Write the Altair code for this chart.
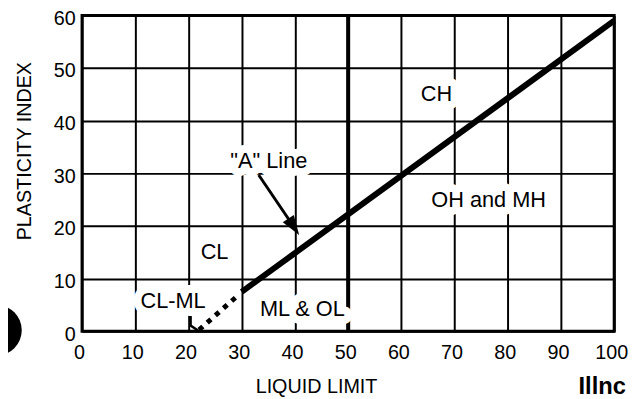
import altair as alt
import pandas as pd

# axis ticks
ll_ticks = list(range(0, 101, 10))
pi_ticks = list(range(0, 61, 10))

# "A" line (solid part) and its dotted extension
a_line_ll = [30.0, 100.0]
a_line_pi = [7.5, 59.0]
dash_ll = [22.0, 29.5]
dash_pi = [0.3, 7.0]
hook_ll = [20.4, 20.4, 22.0]
hook_pi = [3.7, 1.1, 0.0]

# LL = 50 boundary
boundary_ll = [50.0, 50.0]
boundary_pi = [0.0, 60.0]

# zone labels
zone_labels = ["CH", "OH and MH", "CL", "CL-ML", "ML & OL", '"A" Line']
zone_ll = [66.6, 76.4, 24.9, 17.1, 41.4, 35.1]
zone_pi = [45.0, 24.9, 15.0, 5.7, 4.2, 32.3]

# arrow from the "A" Line label
arrow_ll = [33.2, 38.9]
arrow_pi = [29.7, 21.2]
arrow_tip_ll = [40.8]
arrow_tip_pi = [18.3]

# scan artefacts: punch hole and cropped stamp text
punch_ll = [-16.1]
punch_pi = [0.2]
stamp_text = ["Illnc"]
stamp_ll = [102.2]
stamp_pi = [-10.6]

FONT = "Liberation Sans"

x_scale = alt.Scale(domain=[0, 100], nice=False, zero=False)
y_scale = alt.Scale(domain=[0, 60], nice=False, zero=False)

x_axis = alt.Axis(values=ll_ticks, grid=True, gridColor="black", gridWidth=2,
                  gridOpacity=1, ticks=False, domain=False, labelFlush=False,
                  labelOffset=-3,
                  labelOverlap=False, labelFont=FONT, labelFontSize=20,
                  labelColor="black", labelPadding=12, title="LIQUID LIMIT",
                  titleFont=FONT, titleFontSize=20, titleFontWeight="normal",
                  titleColor="black", titleX=237, titleY=56,
                  titleBaseline="middle", titleAlign="center")
y_axis = alt.Axis(values=pi_ticks, grid=True, gridColor="black", gridWidth=2,
                  gridOpacity=1, ticks=False, domain=False, labelFlush=False,
                  labelOverlap=False, labelFont=FONT, labelFontSize=20,
                  labelColor="black", labelPadding=7, labelOffset=3,
                  title="PLASTICITY INDEX",
                  titleFont=FONT, titleFontSize=20, titleFontWeight="normal",
                  titleColor="black", titleX=-48, titleY=137,
                  titleAlign="center", titleAngle=-90)


def X(field="ll"):
    return alt.X(f"{field}:Q", scale=x_scale, axis=x_axis)


def Y(field="pi"):
    return alt.Y(f"{field}:Q", scale=y_scale, axis=y_axis)


a_df = pd.DataFrame({"ll": a_line_ll, "pi": a_line_pi})
dash_df = pd.DataFrame({"ll": dash_ll, "pi": dash_pi})
hook_df = pd.DataFrame({"ll": hook_ll, "pi": hook_pi, "o": range(len(hook_ll))})
bound_df = pd.DataFrame({"ll": boundary_ll, "pi": boundary_pi})
lab_df = pd.DataFrame({"ll": zone_ll, "pi": zone_pi, "t": zone_labels})
arr_df = pd.DataFrame({"ll": arrow_ll, "pi": arrow_pi})
tip_df = pd.DataFrame({"ll": arrow_tip_ll, "pi": arrow_tip_pi})
punch_df = pd.DataFrame({"ll": punch_ll, "pi": punch_pi})
stamp_df = pd.DataFrame({"ll": stamp_ll, "pi": stamp_pi, "t": stamp_text})

boundary = alt.Chart(bound_df).mark_line(color="black", strokeWidth=4).encode(x=X(), y=Y())
a_line = alt.Chart(a_df).mark_line(color="black", strokeWidth=6, strokeCap="butt").encode(x=X(), y=Y())
dashed = alt.Chart(dash_df).mark_line(color="black", strokeWidth=5, strokeDash=[5, 6]).encode(x=X(), y=Y())
hook = alt.Chart(hook_df).mark_line(color="black", strokeWidth=2.5).encode(x=X(), y=Y(), order="o:Q")

halo = alt.Chart(lab_df).mark_text(font=FONT, fontSize=22, fill="white", stroke="white",
                                   strokeWidth=16, strokeJoin="round").encode(x=X(), y=Y(), text="t:N")
labels = alt.Chart(lab_df).mark_text(font=FONT, fontSize=22, color="black").encode(x=X(), y=Y(), text="t:N")

arrow = alt.Chart(arr_df).mark_line(color="black", strokeWidth=3).encode(x=X(), y=Y())
tip = alt.Chart(tip_df).mark_point(shape="M0,0L0.6,1.8L-0.6,1.8Z", filled=True, color="black",
                                   opacity=1, size=494, angle=146.5).encode(x=X(), y=Y())

punch = alt.Chart(punch_df).mark_circle(color="black", opacity=1, size=2642).encode(x=X(), y=Y())
stamp = alt.Chart(stamp_df).mark_text(font=FONT, fontSize=24, fontWeight="bold", color="black",
                                      align="right", baseline="middle").encode(x=X(), y=Y(), text="t:N")

chart = alt.layer(boundary, dashed, hook, a_line, halo, labels, arrow, tip, punch, stamp).properties(
    width=539, height=320,
    autosize="none",
    padding={"left": 75, "top": 5, "right": 15, "bottom": 66},
    background="white",
).configure_view(stroke="black", strokeWidth=3)

chart.save("out.html", embed_options={"renderer": "svg", "actions": False})
